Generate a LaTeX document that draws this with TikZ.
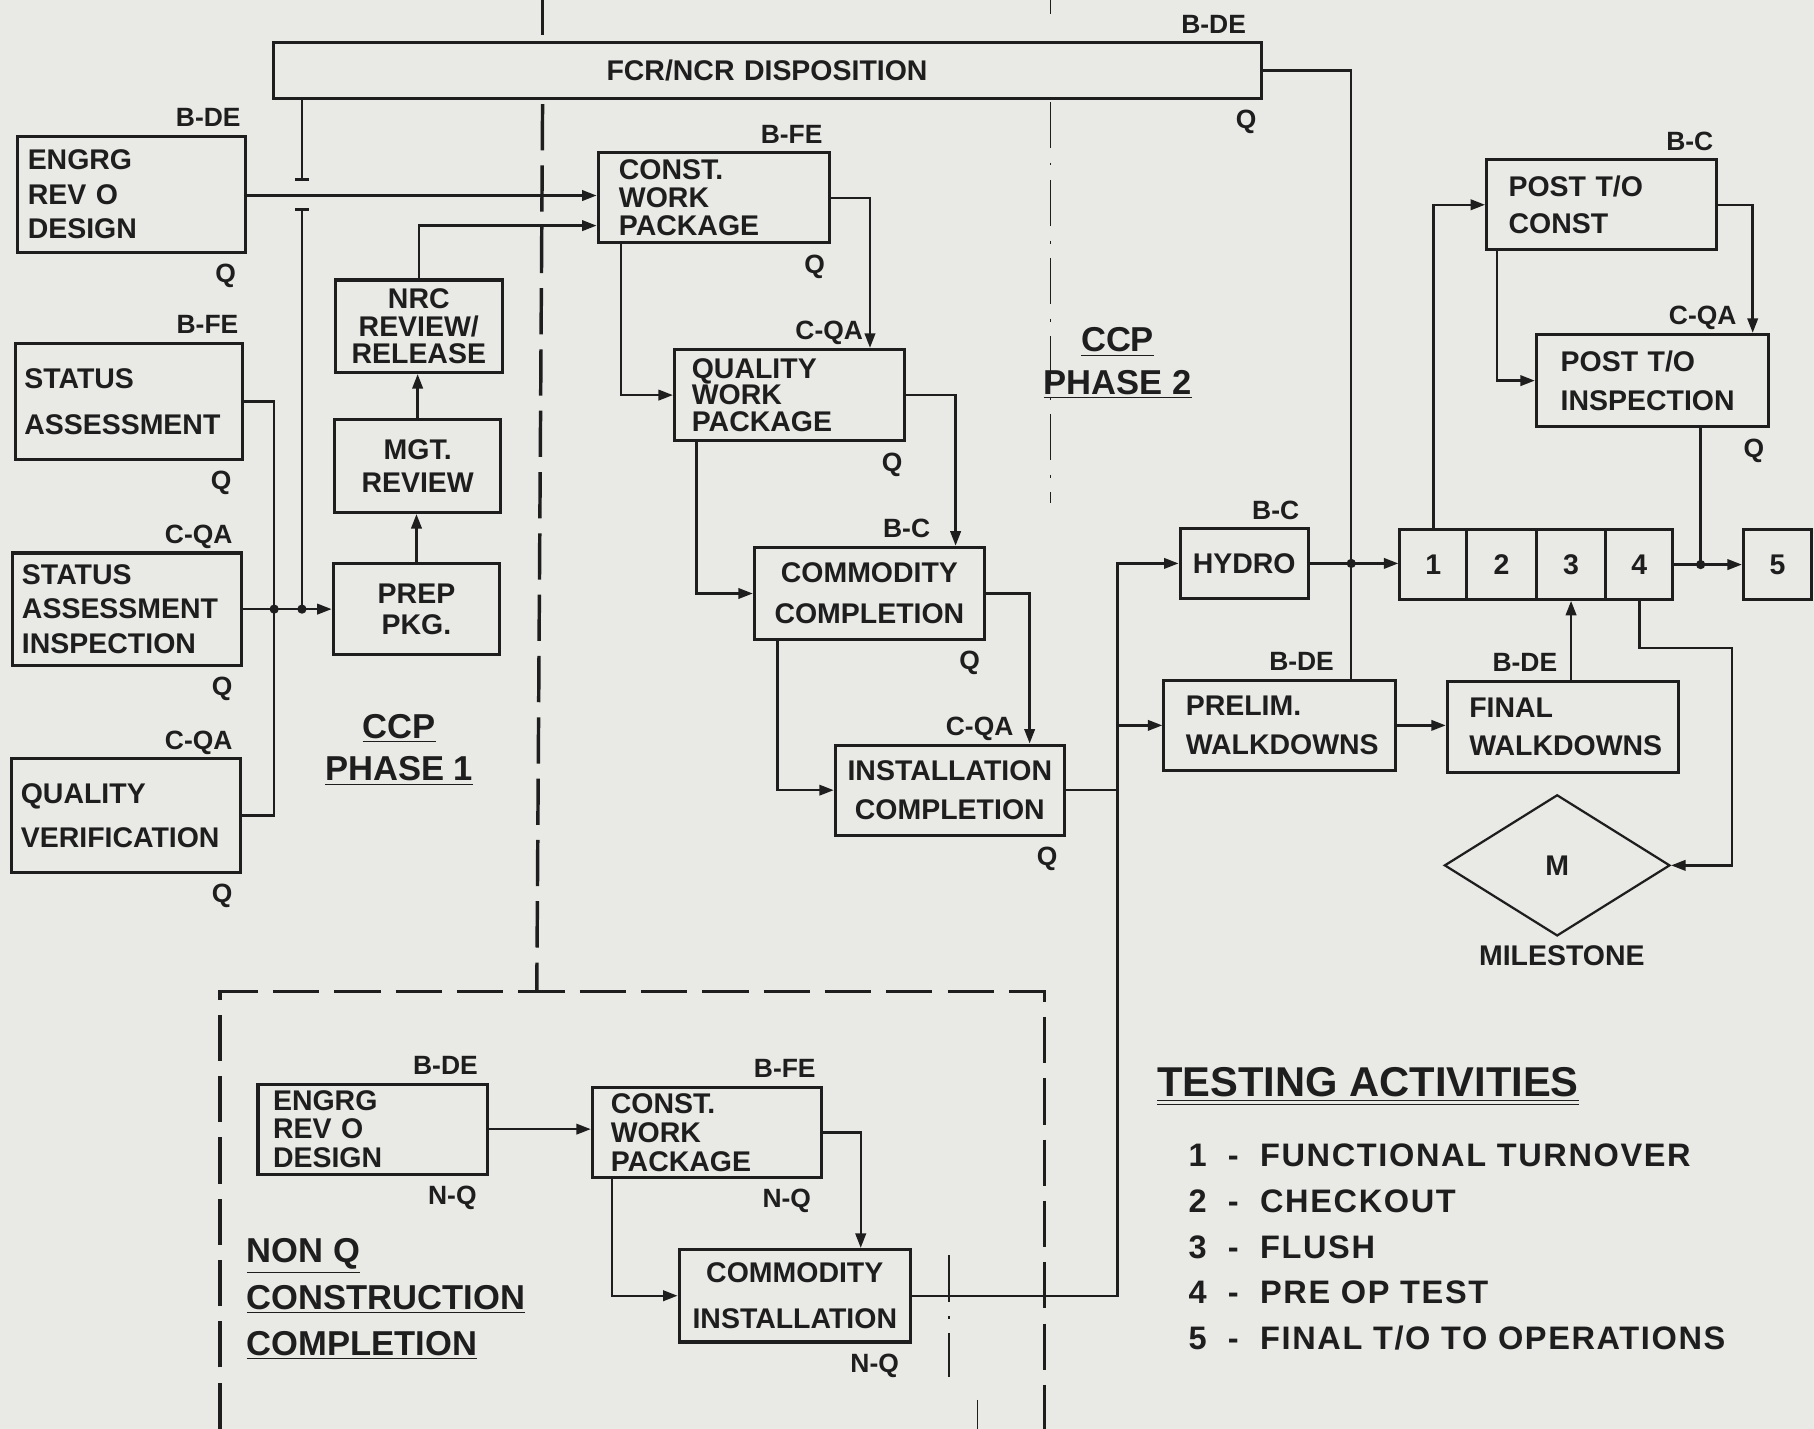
\documentclass[tikz,border=0pt]{standalone}
\usepackage{fontspec}
\setmainfont{Liberation Sans}
\usetikzlibrary{arrows.meta,calc,shapes.geometric}
\definecolor{paperCol}{HTML}{E9E9E6}
\definecolor{inkCol}{HTML}{1E1E1E}
% box from corner (x1,y1) to (x2,y2) in scan pixels, text indent in pixels
\newcommand{\actbox}[8][]{%
  \pgfmathsetmacro{\bw}{(#5-#3)*0.2}\pgfmathsetmacro{\bh}{(#6-#4)*0.2}%
  \pgfmathsetmacro{\ix}{#7*0.2}\pgfmathsetmacro{\tw}{\bw-2*\ix}%
  \node[act, minimum width=\bw mm, minimum height=\bh mm, text width=\tw mm, inner xsep=\ix mm, #1]
    (#2) at ({(#3+#5)/2},{(#4+#6)/2}) {#8};}
\newcommand{\tagup}[3]{\node[tag, anchor=base east] (#1-t) at ([xshift={-(#2)*0.2mm}, yshift=1.4mm]#1.north east) {#3};}
\newcommand{\tagdn}[3]{\node[tag, anchor=north east] (#1-b) at ([xshift={-(#2)*0.2mm}, yshift=-1.7mm]#1.south east) {#3};}
\newcommand{\testline}[2]{#1~~-~~#2}
\tikzset{
  act/.style={draw=inkCol, line width=1.5pt, text=inkCol, inner ysep=0.3mm, align=left,
              font=\bfseries\fontsize{14}{17}\selectfont},
  lsp/.style={font=\bfseries\fontsize{14}{#1}\selectfont},           % line spacing inside a box
  tag/.style={inner sep=0pt, text=inkCol, font=\bfseries\fontsize{13}{13}\selectfont},
  wire/.style={draw=inkCol, line width=1.2pt},
  arr/.style={wire, -{Triangle[length=2.5mm,width=1.8mm]}},
  dot/.style={circle, fill=inkCol, inner sep=0pt, minimum size=1.6mm},
  phase/.style={draw=inkCol, line width=1.7pt, dash pattern=on 8mm off 2.6mm},
  phasetwo/.style={draw=inkCol, line width=0.9pt, dash pattern=on 8mm off 2.5mm on 0.5mm off 2.5mm},
  head/.style={inner sep=0pt, text=inkCol, align=left, font=\bfseries\fontsize{17}{22.8}\selectfont},
}

\begin{document}
\begin{tikzpicture}[x=0.2mm, y=-0.2mm]
  \fill[paperCol] (0,0) rectangle (1568,1235);
  \useasboundingbox (0,0) rectangle (1568,1235);

  % phase separators
  \draw[phase] (469,0) -- (469,30);
  \draw[phase] (469,90) -- (464,857);
  \draw[phase] (190,1235) -- (190,857) -- (903,857) -- (903,1235);
  \draw[phasetwo] (908,0) -- (908,12);
  \draw[phasetwo] (908,88) -- (908,435);
  \draw[phasetwo] (820,1085) -- (820,1190);
  \draw[phasetwo] (845,1210) -- (845,1235);

  \actbox[align=center]{fcr}{236}{37}{1090}{85}{6}{FCR/NCR DISPOSITION}
  \actbox[lsp=17]{engA}{15}{118}{212}{218}{9}{ENGRG\\REV O\\DESIGN}
  \actbox[lsp=22.8]{stA}{13}{297}{210}{397}{8}{STATUS\\ASSESSMENT}
  \actbox[lsp=17]{sai}{11}{478}{209}{575}{8}{STATUS\\ASSESSMENT\\INSPECTION}
  \actbox[lsp=21.6]{qv}{10}{656}{208}{754}{8}{QUALITY\\VERIFICATION}
  \actbox[align=center,lsp=13.7]{nrc}{290}{242}{434}{322}{4}{NRC\\REVIEW/\\RELEASE}
  \actbox[align=center,lsp=16]{mgt}{289}{363}{433}{443}{4}{MGT.\\REVIEW}
  \actbox[align=center,lsp=15.4]{prep}{288}{487}{432}{566}{4}{PREP\\PKG.}
  \actbox[lsp=13.7]{cwp}{517}{132}{717}{210}{18}{CONST.\\WORK\\PACKAGE}
  \actbox[lsp=13.1]{qwp}{583}{302}{782}{381}{15}{QUALITY\\WORK\\PACKAGE}
  \actbox[align=center,lsp=20]{cc}{652}{473}{851}{553}{4}{COMMODITY\\COMPLETION}
  \actbox[align=center,lsp=19.4]{ic}{722}{644}{920}{722}{3}{INSTALLATION\\COMPLETION}
  \actbox[align=center]{hydro}{1020}{457}{1131}{517}{4}{HYDRO}
  \foreach \n/\xa/\xb in {1/1210/1268,2/1268/1328,3/1328/1388,4/1388/1446,5/1507/1566}
    {\actbox[align=center]{t\n}{\xa}{458}{\xb}{518}{2}{\n}}
  \actbox[lsp=18.2]{ptc}{1285}{138}{1484}{216}{19}{POST T/O\\CONST}
  \actbox[lsp=19.4]{pti}{1328}{289}{1529}{369}{21}{POST T/O\\INSPECTION}
  \actbox[lsp=18.8]{prel}{1006}{588}{1206}{666}{19}{PRELIM.\\WALKDOWNS}
  \actbox[lsp=18.8]{fin}{1251}{589}{1451}{668}{19}{FINAL\\WALKDOWNS}
  \node[draw=inkCol, line width=1.1pt, diamond, minimum width=39mm, minimum height=24.4mm, inner sep=0pt,
        text=inkCol, font=\bfseries\fontsize{14}{14}\selectfont] (mile) at (1346,748) {M};
  \node[tag, font=\bfseries\fontsize{14}{14}\selectfont] (mileLbl) at (1350,826) {MILESTONE};
  \actbox[lsp=14.2]{engB}{223}{937}{421}{1015}{13}{ENGRG\\REV O\\DESIGN}
  \actbox[lsp=14.2]{cwpB}{512}{940}{710}{1018}{16}{CONST.\\WORK\\PACKAGE}
  \actbox[align=center,lsp=22.8]{ci}{587}{1080}{787}{1160}{4}{COMMODITY\\INSTALLATION}

  \tagup{fcr}{14}{B-DE}\tagdn{fcr}{5}{Q}
  \tagup{engA}{5}{B-DE}\tagdn{engA}{9}{Q}
  \tagup{stA}{5}{B-FE}\tagdn{stA}{11}{Q}
  \tagup{sai}{9}{C-QA}\tagdn{sai}{9}{Q}
  \tagup{qv}{8}{C-QA}\tagdn{qv}{8}{Q}
  \tagup{cwp}{7}{B-FE}\tagdn{cwp}{5}{Q}
  \tagup{qwp}{37}{C-QA}\tagdn{qwp}{3}{Q}
  \tagup{cc}{48}{B-C}\tagdn{cc}{5}{Q}
  \tagup{ic}{45}{C-QA}\tagdn{ic}{7}{Q}
  \tagup{hydro}{9}{B-C}
  \tagup{prel}{54}{B-DE}
  \tagup{fin}{106}{B-DE}
  \tagup{ptc}{4}{B-C}
  \tagup{pti}{29}{C-QA}\tagdn{pti}{5}{Q}
  \tagup{engB}{9}{B-DE}\tagdn{engB}{10}{N-Q}
  \tagup{cwpB}{6}{B-FE}\tagdn{cwpB}{10}{N-Q}
  \tagdn{ci}{11}{N-Q}

  \coordinate (busL) at (237,0 |- sai.east);
  \coordinate (busF) at (261,0 |- sai.east);
  \coordinate (busR) at (966,0 |- hydro.west);
  \coordinate (busH) at (1168,0 |- hydro.east);
  \coordinate (busP) at (1470,0 |- t4.east);

  % phase 1
  \draw[arr] (engA.east |- 0,169) -- (cwp.west |- 0,169);
  \draw[wire] (stA.east) -| (busL);
  \draw[wire] (qv.east) -| (busL);
  \draw[arr] (sai.east) -- (prep.west |- sai.east);
  \draw[wire] (fcr.south -| busF) -- (busF |- 0,155) ++(-6,0) -- ++(12,0);
  \draw[wire] (busF) -- (busF |- 0,181) ++(-6,0) -- ++(12,0);
  \draw[arr] (prep.north) -- (prep.north |- mgt.south);
  \draw[arr] (mgt.north) -- (mgt.north |- nrc.south);
  \draw[arr] (nrc.north) |- (cwp.west |- 0,195);
  \node[dot] (dL) at (busL) {};
  \node[dot] (dF) at (busF) {};

  % phase 2
  \draw[arr] (cwp.east) -| (qwp.north -| 752,0);
  \draw[arr] (cwp.south -| 537,0) |- (qwp.west);
  \draw[arr] (qwp.east) -| (cc.north -| 826,0);
  \draw[arr] (qwp.south -| 602,0) |- (cc.west);
  \draw[arr] (cc.east) -| (ic.north -| 890,0);
  \draw[arr] (cc.south -| 672,0) |- (ic.west);
  \draw[wire] (ic.east) -- (ic.east -| busR);
  \draw[arr] (ci.east) -| (busR) -- (hydro.west);
  \draw[arr] (busR |- prel.west) -- (prel.west);

  % testing
  \draw[wire] (fcr.east) -| (prel.north -| busH);
  \draw[arr] (hydro.east) -- (t1.west |- hydro.east);
  \draw[arr] (prel.east) -- (fin.west |- prel.east);
  \draw[arr] (fin.north -| t3.south) -- (t3.south);
  \draw[arr] (t4.east) -- (t5.west |- t4.east);
  \draw[wire] (pti.south -| busP) -- (busP);
  \draw[arr] (t1.north) |- (ptc.west);
  \draw[arr] (ptc.east) -| (pti.north -| 1515,0);
  \draw[arr] (ptc.south -| 1294,0) |- (pti.west);
  \draw[arr] (t4.south) |- (1497,560) |- (mile.east);
  \node[dot] (dH) at (busH) {};
  \node[dot] (dP) at (busP) {};

  % non q
  \draw[arr] (engB.east) -- (cwpB.west |- engB.east);
  \draw[arr] (cwpB.east) -| (ci.north -| 744,0);
  \draw[arr] (cwpB.south -| 529,0) |- (ci.west);

  \node[head, align=center, font=\bfseries\fontsize{17}{21}\selectfont] (ph1) at (345,648) {\underline{CCP}\\\underline{PHASE 1}};
  \node[head, align=center, font=\bfseries\fontsize{17}{21}\selectfont] (ph2) at (966,314) {\underline{CCP}\\\underline{PHASE 2}};
  \node[head, anchor=west] (nonq) at (213,1123) {\underline{NON Q}\\\underline{CONSTRUCTION}\\\underline{COMPLETION}};
  \node[head, anchor=base west, font=\bfseries\fontsize{20.5}{20.5}\selectfont] (testHd) at (1000,948)
    {\underline{\underline{TESTING ACTIVITIES}}};
  \node[head, anchor=north west, font=\bfseries\fontsize{16}{22.6}\selectfont\addfontfeature{LetterSpace=5}] (testList) at (1027,988)
    {\testline{1}{FUNCTIONAL TURNOVER}\\\testline{2}{CHECKOUT}\\\testline{3}{FLUSH}\\\testline{4}{PRE OP TEST}\\\testline{5}{FINAL T/O TO OPERATIONS}};
\end{tikzpicture}
\end{document}
